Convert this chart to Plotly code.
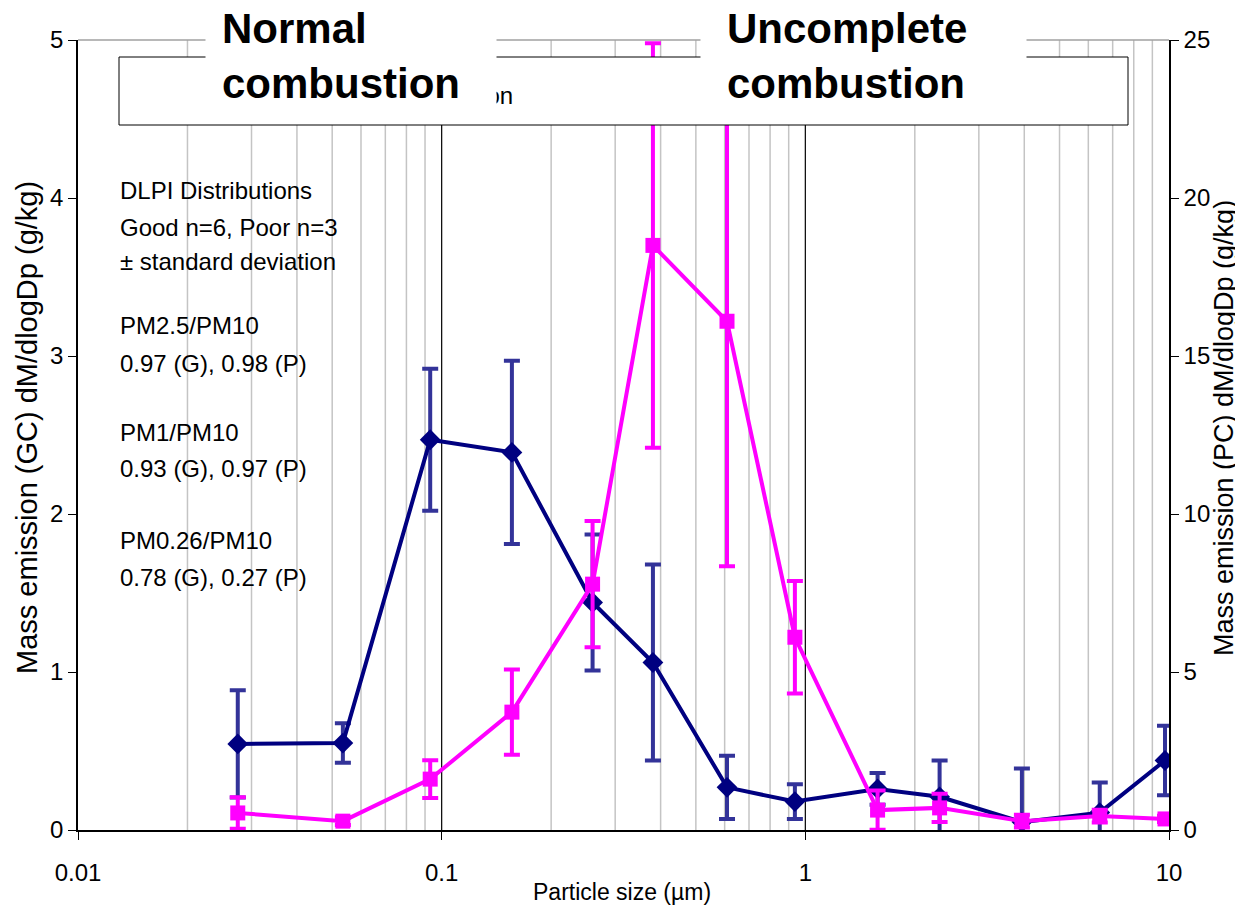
import plotly.graph_objects as go

# Particle size (µm), stage midpoints
size_um = [0.0275, 0.0535, 0.093, 0.156, 0.26, 0.381, 0.609, 0.936, 1.58, 2.34, 3.94, 6.45, 9.75]

# Good / normal combustion (left axis, g/kg)
gc_mean = [0.545, 0.55, 2.47, 2.39, 1.44, 1.06, 0.27, 0.18, 0.26, 0.21, 0.05, 0.11, 0.44]
gc_sd = [0.34, 0.125, 0.45, 0.58, 0.43, 0.62, 0.20, 0.11, 0.10, 0.23, 0.34, 0.19, 0.22]

# Poor / uncomplete combustion (right axis, g/kg)
pc_mean = [0.54, 0.28, 1.61, 3.73, 7.78, 18.5, 16.1, 6.1, 0.63, 0.70, 0.28, 0.44, 0.35]
pc_sd = [0.50, 0.12, 0.60, 1.35, 2.0, 6.4, 7.75, 1.78, 0.62, 0.45, 0.20, 0.20, 0.10]

x_ticks = [0.01, 0.1, 1, 10]
x_ticklabels = ["0.01", "0.1", "1", "10"]
minor_grid = [m * 10 ** e for e in (-2, -1, 0) for m in range(2, 10)]
major_grid = [0.1, 1]

notes = [
    "DLPI Distributions", "Good n=6, Poor n=3", "± standard deviation",
    "PM2.5/PM10", "0.97 (G), 0.98 (P)",
    "PM1/PM10", "0.93 (G), 0.97 (P)",
    "PM0.26/PM10", "0.78 (G), 0.27 (P)",
]
notes_y = [0.810, 0.763, 0.719, 0.638, 0.591, 0.503, 0.457, 0.366, 0.319]

FONT = "Liberation Sans, Arial, sans-serif"

# page geometry (the page body adds an 8px offset)
OFF = 8
W, H = 1243 - OFF, 907 - OFF
L, R, T, B = 78, 1169, 40, 830   # plot area in page pixels
def px(xp):
    return (xp - L) / (R - L)
def py(yp):
    return (B - yp) / (B - T)

fig = go.Figure()

fig.add_trace(go.Scatter(
    x=size_um, y=gc_mean, mode="lines+markers", name="Good combustion",
    line=dict(color="#000080", width=4),
    marker=dict(symbol="diamond", size=16, color="#000080"),
    error_y=dict(type="data", array=gc_sd, visible=True, color="#333399", thickness=4, width=8),
    yaxis="y", showlegend=False,
))
fig.add_trace(go.Scatter(
    x=size_um, y=pc_mean, mode="lines+markers", name="Poor combustion",
    line=dict(color="#FF00FF", width=4),
    marker=dict(symbol="square", size=15, color="#FF00FF"),
    error_y=dict(type="data", array=pc_sd, visible=True, color="#FF00FF", thickness=4, width=8),
    yaxis="y2", showlegend=False,
))

shapes = []
for g in minor_grid:
    shapes.append(dict(type="line", xref="x", yref="paper", x0=g, x1=g, y0=0, y1=1,
                       line=dict(color="#C4C4C4", width=1.5), layer="below"))
for g in major_grid:
    shapes.append(dict(type="line", xref="x", yref="paper", x0=g, x1=g, y0=0, y1=1,
                       line=dict(color="black", width=1.2), layer="below"))
shapes.append(dict(type="line", xref="paper", yref="paper", x0=0, x1=1, y0=1, y1=1,
                   line=dict(color="#A0A0A0", width=1.5), layer="below"))
# legend-like box (white, above the data)
shapes.append(dict(type="rect", xref="paper", yref="paper", x0=px(119), x1=px(1128), y0=py(125), y1=py(57),
                   line=dict(color="black", width=1), fillcolor="white", layer="above"))

annotations = []
# legend text, mostly hidden behind the white label
annotations.append(dict(xref="paper", yref="paper", x=px(515), y=py(95),
                        xanchor="right", yanchor="middle", text="Good combustion", showarrow=False,
                        font=dict(family=FONT, size=24, color="black")))
# white cover boxes
for x0, x1 in ((205, 495), (700, 1025)):
    annotations.append(dict(xref="paper", yref="paper", x=px(x0), y=py(OFF),
                            xanchor="left", yanchor="top", text=" ", showarrow=False,
                            width=x1 - x0, height=121 - OFF, bgcolor="white", borderpad=0,
                            font=dict(family=FONT, size=10)))
# bold labels
annotations.append(dict(xref="paper", yref="paper", x=px(220), y=py(56),
                        xanchor="left", yanchor="middle", text="<b>Normal<br>combustion</b>",
                        showarrow=False, align="left",
                        font=dict(family=FONT, size=42, color="black")))
annotations.append(dict(xref="paper", yref="paper", x=px(725), y=py(56),
                        xanchor="left", yanchor="middle", text="<b>Uncomplete<br>combustion</b>",
                        showarrow=False, align="left",
                        font=dict(family=FONT, size=42, color="black")))
for t, yy in zip(notes, notes_y):
    annotations.append(dict(xref="paper", yref="paper", x=px(118), y=yy,
                            xanchor="left", yanchor="middle", text=t, showarrow=False,
                            font=dict(family=FONT, size=24, color="black")))
# axis titles
annotations.append(dict(xref="paper", yref="paper", x=px(27), y=py(428), textangle=-90,
                        xanchor="center", yanchor="middle", showarrow=False,
                        text="Mass emission (GC) dM/dlogDp (g/kg)",
                        font=dict(family=FONT, size=29, color="black")))
annotations.append(dict(xref="paper", yref="paper", x=px(1224), y=py(428), textangle=-90,
                        xanchor="center", yanchor="middle", showarrow=False,
                        text="Mass emission (PC) dM/dlogDp (g/kg)",
                        font=dict(family=FONT, size=27, color="black")))
annotations.append(dict(xref="paper", yref="paper", x=px(622), y=py(892),
                        xanchor="center", yanchor="middle", showarrow=False,
                        text="Particle size (µm)",
                        font=dict(family=FONT, size=23, color="black")))

axis_common = dict(showgrid=False, zeroline=False, showline=True, linecolor="black", linewidth=1.5,
                   ticks="outside", ticklen=8, tickcolor="black", automargin=False,
                   tickfont=dict(family=FONT, size=24))

fig.update_layout(
    width=W, height=H,
    margin=dict(l=L - OFF, r=W - (R - OFF), t=T - OFF, b=H - (B - OFF)),
    paper_bgcolor="white", plot_bgcolor="white",
    font=dict(family=FONT, size=24, color="black"),
    xaxis=dict(type="log", range=[-2, 1], tickvals=x_ticks, ticktext=x_ticklabels,
               ticklabelstandoff=12, **axis_common),
    yaxis=dict(range=[0, 5], tickvals=[0, 1, 2, 3, 4, 5], **axis_common),
    yaxis2=dict(range=[0, 25], tickvals=[0, 5, 10, 15, 20, 25], overlaying="y", side="right",
                **axis_common),
    shapes=shapes,
    annotations=annotations,
)

fig.write_html("out.html")
